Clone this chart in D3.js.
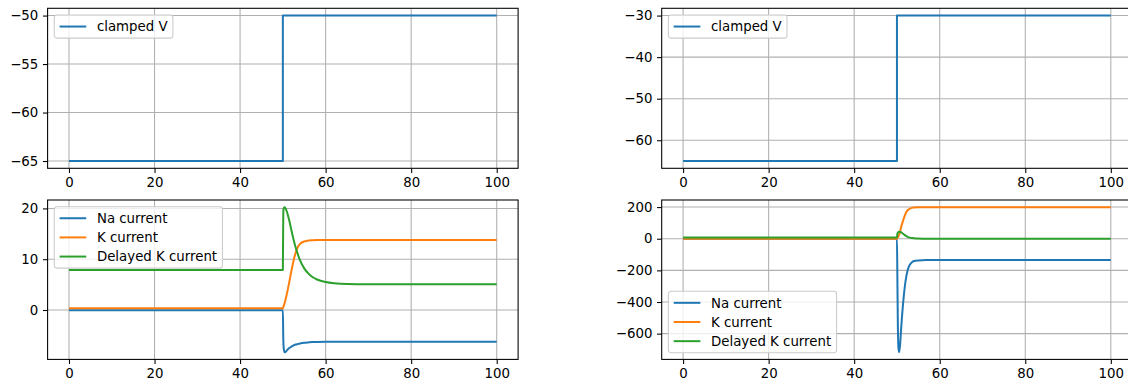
<!DOCTYPE html>
<html>
<head>
<meta charset="utf-8">
<script src="https://cdn.jsdelivr.net/npm/d3@7"></script>
<style>
  body { margin: 0; background: #fff; }
  svg { display: block; font-family: "DejaVu Sans", sans-serif; }
</style>
</head>
<body>
<svg id="chart" width="1128" height="383"></svg>
<script>
// clamp voltage, step at t = 50 ms
const vTime = [0, 50, 50, 100]
const vLeft = [-65, -65, -50, -50]
const vRight = [-65, -65, -30, -30]

// currents, clamp to -50 mV
const tLeft = [0, 50, 50.1, 50.2, 50.4, 50.7, 51, 51.5, 52, 52.5, 53, 53.5, 54, 55, 56, 57, 58, 60, 62, 65, 70, 100]
const naLeft = [-0.05, -0.05, -5.5, -7.5, -8.3, -8.2, -7.9, -7.5, -7.2, -6.95, -6.8, -6.7, -6.6, -6.45, -6.38, -6.32, -6.29, -6.26, -6.25, -6.24, -6.24, -6.24]
const kLeft = [0.33, 0.33, 0.5, 0.8, 1.3, 2.3, 3.4, 5.5, 7.7, 9.7, 11.3, 12.4, 13.0, 13.5, 13.7, 13.75, 13.77, 13.78, 13.78, 13.78, 13.78, 13.78]
const dkLeft = [7.87, 7.87, 19.0, 20.0, 20.23, 19.9, 19.2, 17.6, 15.7, 13.9, 12.3, 11.0, 9.8, 8.2, 7.15, 6.45, 6.0, 5.5, 5.25, 5.1, 5.06, 5.05]

// currents, clamp to -30 mV
const tRight = [0, 50, 50.1, 50.2, 50.35, 50.5, 50.7, 51, 51.5, 52, 52.5, 53, 53.5, 54, 55, 56, 58, 60, 65, 100]
const naRight = [-0.05, -0.05, -250, -520, -690, -717, -680, -560, -390, -270, -200, -165, -148, -141, -137, -135.5, -135, -135, -135, -135]
const kRight = [0.3, 0.3, 3, 8, 16, 25, 40, 75, 120, 158, 180, 190, 195, 197, 198.5, 199, 199, 199, 199, 199]
const dkRight = [7.87, 7.87, 30, 38, 42, 43.5, 44, 40, 30, 20, 12, 7, 4.5, 3, 1.2, 0.6, 0.4, 0.3, 0.3, 0.3]

const xTicks = [0, 20, 40, 60, 80, 100]
const yTicksTL = [-65, -60, -55, -50]
const yTicksTR = [-60, -50, -40, -30]
const yTicksBL = [0, 10, 20]
const yTicksBR = [-600, -400, -200, 0, 200]

const seriesNames = ["Na current", "K current", "Delayed K current"]
const colors = ["#1f77b4", "#ff7f0e", "#2ca02c"]

const svg = d3.select("#chart")
const fs = 13.33

function pad(ext) {
  const m = (ext[1] - ext[0]) * 0.05
  return [ext[0] - m, ext[1] + m]
}

function panel(box, series, yTicks, legendPos) {
  const allX = series.flatMap(s => s.x)
  const allY = series.flatMap(s => s.y)
  const x = d3.scaleLinear().domain(pad(d3.extent(allX))).range([box.x0, box.x1])
  const y = d3.scaleLinear().domain(pad(d3.extent(allY))).range([box.y1, box.y0])

  const g = svg.append("g")

  // grid
  g.append("g").selectAll("line").data(xTicks).join("line")
    .attr("x1", d => x(d)).attr("x2", d => x(d))
    .attr("y1", box.y0).attr("y2", box.y1)
    .attr("stroke", "#b0b0b0").attr("stroke-width", 1.07)
  g.append("g").selectAll("line").data(yTicks).join("line")
    .attr("y1", d => y(d)).attr("y2", d => y(d))
    .attr("x1", box.x0).attr("x2", box.x1)
    .attr("stroke", "#b0b0b0").attr("stroke-width", 1.07)

  const line = d3.line().x(d => x(d[0])).y(d => y(d[1])).curve(d3.curveMonotoneX)
  series.forEach(s => {
    g.append("path")
      .attr("d", line(s.x.map((t, i) => [t, s.y[i]])))
      .attr("fill", "none").attr("stroke", s.color)
      .attr("stroke-width", 2).attr("stroke-linejoin", "round")
  })

  // axes
  const fmt = d => d3.format("d")(d).replace("-", "\u2212")
  const xa = g.append("g").attr("transform", "translate(0," + box.y1 + ")")
    .call(d3.axisBottom(x).tickValues(xTicks).tickFormat(fmt).tickSize(4.67).tickPadding(4.67))
  const ya = g.append("g").attr("transform", "translate(" + box.x0 + ",0)")
    .call(d3.axisLeft(y).tickValues(yTicks).tickFormat(fmt).tickSize(4.67).tickPadding(4.67))
  ;[xa, ya].forEach(a => {
    a.select(".domain").remove()
    a.selectAll("line").attr("stroke", "#000").attr("stroke-width", 1.07)
    a.selectAll("text").attr("font-size", fs).attr("fill", "#000")
      .attr("font-family", "DejaVu Sans, sans-serif")
  })

  g.append("rect")
    .attr("x", box.x0).attr("y", box.y0)
    .attr("width", box.x1 - box.x0).attr("height", box.y1 - box.y0)
    .attr("fill", "none").attr("stroke", "#000").attr("stroke-width", 1.07)

  // legend
  const bp = 0.4 * fs, hl = 2 * fs, htp = 0.8 * fs, rowH = 12.5, ls = 0.5 * fs
  const lg = g.append("g")
  const frame = lg.append("rect")
  const items = lg.selectAll("g").data(series).join("g")
  const widths = []
  items.each(function (s, i) {
    const cy = bp + rowH / 2 + i * (rowH + ls)
    const it = d3.select(this)
    it.append("line").attr("x1", bp).attr("x2", bp + hl)
      .attr("y1", cy).attr("y2", cy)
      .attr("stroke", s.color).attr("stroke-width", 2)
    const t = it.append("text").attr("x", bp + hl + htp).attr("y", cy)
      .attr("dy", "0.36em").attr("font-size", fs).text(s.name)
    widths.push(t.node().getComputedTextLength())
  })
  const w = bp * 2 + hl + htp + d3.max(widths)
  const h = bp * 2 + series.length * rowH + (series.length - 1) * ls
  frame.attr("width", w).attr("height", h).attr("rx", 2.7)
    .attr("fill", "rgba(255,255,255,0.8)").attr("stroke", "#cccccc").attr("stroke-width", 1.07)
  const off = 0.5 * fs
  const lx = box.x0 + off
  const ly = legendPos === "lower" ? box.y1 - off - h : box.y0 + off
  lg.attr("transform", "translate(" + lx + "," + ly + ")")
}

const leftX = [47.6, 518.1]
const rightX = [661.7, 1132.2]
const topY = [8.3, 168.3]
const botY = [200, 359.4]

panel({x0: leftX[0], x1: leftX[1], y0: topY[0], y1: topY[1]},
  [{x: vTime, y: vLeft, color: colors[0], name: "clamped V"}], yTicksTL, "upper")
panel({x0: rightX[0], x1: rightX[1], y0: topY[0], y1: topY[1]},
  [{x: vTime, y: vRight, color: colors[0], name: "clamped V"}], yTicksTR, "upper")
panel({x0: leftX[0], x1: leftX[1], y0: botY[0], y1: botY[1]},
  [naLeft, kLeft, dkLeft].map((v, i) => ({x: tLeft, y: v, color: colors[i], name: seriesNames[i]})),
  yTicksBL, "upper")
panel({x0: rightX[0], x1: rightX[1], y0: botY[0], y1: botY[1]},
  [naRight, kRight, dkRight].map((v, i) => ({x: tRight, y: v, color: colors[i], name: seriesNames[i]})),
  yTicksBR, "lower")
</script>
</body>
</html>
